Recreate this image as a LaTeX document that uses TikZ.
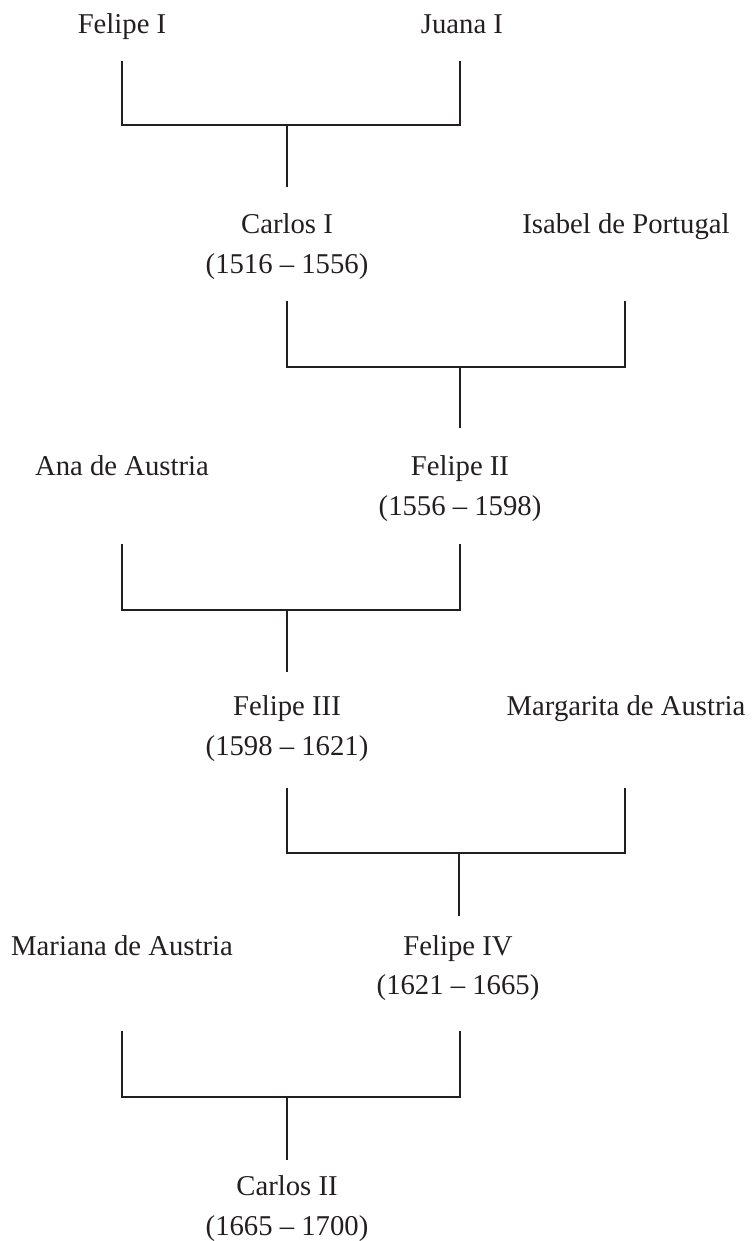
\documentclass[tikz,border=0pt]{standalone}
\usepackage{fontspec}
\setmainfont{Liberation Serif}
\definecolor{ink}{HTML}{231F20}
\begin{document}
\begin{tikzpicture}[x=1pt,y=-1pt,
  person/.style={anchor=base,inner sep=0pt,text=ink,font=\fontsize{28.7}{32}\selectfont},
  link/.style={draw=ink,line width=2pt,line cap=butt,line join=miter}]
\useasboundingbox (0,0) rectangle (752,1241);
% row 1
\node[person] (felipeI) at (122,34) {Felipe I};
\node[person] (juanaI) at (462,34) {Juana I};
% row 2
\node[person] (carlosI) at (287,234) {Carlos I};
\node[person] (carlosIy) at (287,273) {(1516 -- 1556)};
\node[person] (isabel) at (626,234) {Isabel de Portugal};
% row 3
\node[person] (ana) at (122,475) {Ana de Austria};
\node[person] (felipeII) at (460,475) {Felipe II};
\node[person] (felipeIIy) at (460,515) {(1556 -- 1598)};
% row 4
\node[person] (felipeIII) at (287,715) {Felipe III};
\node[person] (felipeIIIy) at (287,755) {(1598 -- 1621)};
\node[person] (margarita) at (626,715) {Margarita de Austria};
% row 5
\node[person] (mariana) at (122,955) {Mariana de Austria};
\node[person] (felipeIV) at (458,955) {Felipe IV};
\node[person] (felipeIVy) at (458,994) {(1621 -- 1665)};
% row 6
\node[person] (carlosII) at (287,1195) {Carlos II};
\node[person] (carlosIIy) at (287,1235) {(1665 -- 1700)};

% bracket 1
\coordinate (b1lt) at (122,61);  \coordinate (b1lb) at (122,125);
\coordinate (b1rt) at (460,61);  \coordinate (b1rb) at (460,125);
\coordinate (b1mt) at (287,125); \coordinate (b1mb) at (287,187);
\draw[link] (b1lt) -- (b1lb) -- (b1rb) -- (b1rt);
\draw[link] (b1mt) -- (b1mb);
% bracket 2
\coordinate (b2lt) at (287,301); \coordinate (b2lb) at (287,367);
\coordinate (b2rt) at (625,301); \coordinate (b2rb) at (625,367);
\coordinate (b2mt) at (460,367); \coordinate (b2mb) at (460,428);
\draw[link] (b2lt) -- (b2lb) -- (b2rb) -- (b2rt);
\draw[link] (b2mt) -- (b2mb);
% bracket 3
\coordinate (b3lt) at (122,544); \coordinate (b3lb) at (122,610);
\coordinate (b3rt) at (460,544); \coordinate (b3rb) at (460,610);
\coordinate (b3mt) at (287,610); \coordinate (b3mb) at (287,672);
\draw[link] (b3lt) -- (b3lb) -- (b3rb) -- (b3rt);
\draw[link] (b3mt) -- (b3mb);
% bracket 4
\coordinate (b4lt) at (287,788); \coordinate (b4lb) at (287,853);
\coordinate (b4rt) at (625,788); \coordinate (b4rb) at (625,853);
\coordinate (b4mt) at (459,853); \coordinate (b4mb) at (459,916);
\draw[link] (b4lt) -- (b4lb) -- (b4rb) -- (b4rt);
\draw[link] (b4mt) -- (b4mb);
% bracket 5
\coordinate (b5lt) at (122,1031); \coordinate (b5lb) at (122,1097);
\coordinate (b5rt) at (460,1031); \coordinate (b5rb) at (460,1097);
\coordinate (b5mt) at (287,1097); \coordinate (b5mb) at (287,1160);
\draw[link] (b5lt) -- (b5lb) -- (b5rb) -- (b5rt);
\draw[link] (b5mt) -- (b5mb);
\end{tikzpicture}
\end{document}
